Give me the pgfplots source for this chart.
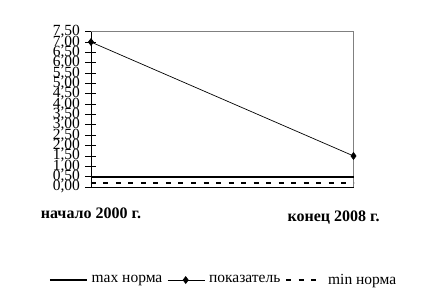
\documentclass[border=0pt]{standalone}
\usepackage{fontspec}
\setmainfont{Liberation Serif}
\usepackage{pgfplots}
\pgfplotsset{compat=1.18}
\begin{document}
\begin{tikzpicture}
\useasboundingbox (0pt,0pt) rectangle (429pt,299pt);
\begin{axis}[
  at={(91pt,112pt)}, anchor=south west, scale only axis,
  width=262.5pt, height=155.3pt,
  xmin=0, xmax=1, ymin=0, ymax=7.5,
  xtick=\empty,
  ytick={0,0.5,1,1.5,2,2.5,3,3.5,4,4.5,5,5.5,6,6.5,7,7.5},
  ytick pos=left,
  tick align=center,
  major tick length=11pt,
  tick style={black, line width=0.8pt},
  axis line style={gray, line width=0.8pt},
  /pgf/number format/assume math mode=true,
  yticklabel style={/pgf/number format/.cd,fixed,fixed zerofill,precision=2,use comma,
     /tikz/.cd, font=\fontsize{15.5}{15}\selectfont, xshift=-2pt},
  legend style={at={(0.505,-0.599)}, anchor=center, draw=none, fill=none,
     legend columns=3, font=\fontsize{15.5}{16}\selectfont,
     /tikz/every odd column/.append style={column sep=2pt},
     /tikz/every even column/.append style={column sep=3pt}},
  legend image code/.code={\draw[#1,mark repeat=2,mark phase=2] plot coordinates {(0pt,0pt) (18pt,0pt) (37pt,0pt)};},
  clip=false,
]
\draw[black, line width=0.8pt] (rel axis cs:0,0) -- (rel axis cs:0,1);
\draw[black, line width=0.8pt] (rel axis cs:0,0) -- (rel axis cs:1,0);
\addplot[black, line width=1.8pt, no marks] coordinates {(0,0.48) (1,0.48)};
\addlegendentry{max норма}
\addplot[black, line width=0.7pt, mark=diamond*, mark size=3.4pt] coordinates {(0,7.0) (1,1.5)};
\addlegendentry{показатель}
\addplot[black, line width=1.8pt, dash pattern=on 5pt off 7.5pt, no marks] coordinates {(0,0.18) (1,0.18)};
\addlegendentry{min норма}
\node[font=\bfseries\fontsize{16}{16}\selectfont] at (rel axis cs:0,0) [yshift=-26pt] {начало 2000 г.};
\node[font=\bfseries\fontsize{16}{16}\selectfont] at (rel axis cs:0.924,0) [yshift=-31pt] {конец 2008 г.};
\end{axis}
\end{tikzpicture}
\end{document}
